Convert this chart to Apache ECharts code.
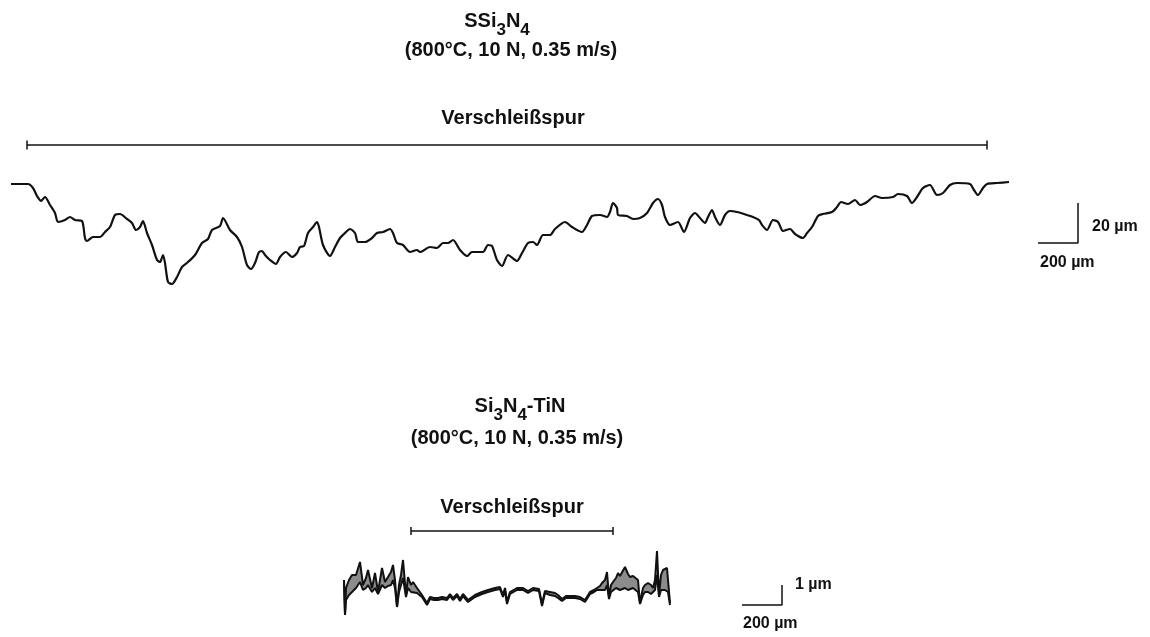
<!DOCTYPE html>
<html>
<head>
<meta charset="utf-8">
<script src="https://cdn.jsdelivr.net/npm/echarts@6/dist/echarts.min.js"></script>
<style>html,body{margin:0;padding:0;background:#fff;}#chart{width:1150px;height:637px;}</style>
</head>
<body>
<div id="chart"></div>
<script>
// ---- Top profile: SSi3N4 (x in µm along track, height in µm) ----
const topX = [5,90,115,135,155,175,200,225,240,275,300,325,360,375,385,415,450,475,500,525,550,585,610,630,650,665,685,710,735,750,765,775,790,810,835,860,890,925,960,990,1010,1050,1065,1100,1135,1160,1185,1205,1225,1245,1260,1275,1300,1330,1350,1380,1410,1435,1450,1470,1490,1515,1535,1545,1565,1600,1625,1650,1675,1700,1725,1740,1775,1810,1835,1865,1900,1915,1935,1965,2000,2035,2050,2100,2135,2165,2190,2215,2250,2285,2310,2365,2390,2410,2435,2460,2490,2535,2560,2590,2615,2635,2665,2700,2725,2775,2810,2860,2885,2910,2950,2985,3000,3015,3035,3040,3085,3115,3150,3185,3215,3240,3260,3275,3300,3340,3370,3400,3425,3450,3475,3490,3510,3525,3550,3575,3600,3635,3685,3715,3745,3760,3785,3815,3840,3865,3900,3925,3965,3985,4010,4040,4065,4110,4135,4155,4190,4225,4250,4285,4325,4360,4415,4440,4485,4510,4535,4565,4600,4635,4665,4700,4735,4800,4820,4840,4865,4885,4935,4995];
const topY = [-0.5,-0.5,-2.5,-6.5,-9,-7,-11,-15,-19.5,-18.5,-17,-18.5,-19,-27.5,-29,-27,-27,-24.5,-22,-16,-15.5,-18,-20,-23.5,-22,-19,-25,-31,-38.5,-39.5,-36,-40,-49.5,-50.5,-47,-42,-39.5,-36,-30,-28,-23.5,-21.5,-17.5,-23.5,-27,-32,-41,-43,-40,-34.5,-34,-36,-38.5,-40.5,-37,-34.5,-37,-35,-32,-31.5,-25,-22,-19.5,-22,-31,-36.5,-32,-27.5,-25,-23,-25,-29.5,-29.5,-27.5,-25,-24.5,-23,-25,-30,-31,-34.5,-33.5,-34.5,-32,-32.5,-30,-30,-28.5,-33.5,-36.5,-34.5,-34.5,-31,-31.5,-38.5,-41.5,-36,-39,-35,-30,-29.5,-31,-26,-26,-23,-19.5,-22,-24.5,-21,-16.5,-16,-17,-14.5,-10,-12.5,-16,-16.5,-18,-17.5,-15,-10,-8,-11,-17,-21,-19.5,-24.5,-17.5,-15,-17.5,-20,-17,-13.5,-17,-21,-16,-14,-14.5,-16,-17,-18.5,-21,-23.5,-18.5,-19.5,-24,-23,-25.5,-27.5,-25,-22,-16.5,-15.5,-14.5,-12,-9.5,-10.5,-8.5,-11,-9.5,-6.5,-7.5,-7,-5.5,-6.5,-10,-7,-2.5,-1,-6,-5,-1,0,-0.5,-3.5,-6,-2.5,-0.5,0,0.5];
const topTrack = [85, 4885];      // wear track start/end (µm)
const topTrackLevel = 19;         // height of the wear-track bar (µm)
const topScaleX = [5140, 5340];   // 200 µm horizontal scale
const topScaleY = [-30, -10];     // 20 µm vertical scale

// ---- Bottom profile: Si3N4-TiN (double trace: upper & lower envelope) ----
const botX = [20,25,30,45,60,80,100,115,130,140,160,175,190,210,225,240,255,265,275,285,295,305,315,330,340,355,365,385,410,435,450,470,490,510,535,550,565,585,600,615,640,675,710,740,775,800,815,825,835,850,860,885,915,940,965,995,1010,1025,1050,1075,1090,1110,1130,1150,1175,1200,1225,1250,1270,1285,1300,1310,1325,1335,1345,1355,1365,1380,1390,1400,1410,1425,1440,1450,1465,1475,1490,1500,1515,1525,1540,1555,1565,1575,1585,1595,1605,1615,1625,1635,1640,1650];
const botUpper = [0.5,-1.25,0.1,0.5,0.75,0.75,1.4,0.25,0.6,1.0,0.1,0.85,-0.1,1.1,0.4,0.65,0.9,1.25,0.5,-0.85,0.25,0.75,1.5,-0.25,0.65,0.25,0.4,0.1,-0.25,-0.65,-0.35,-0.4,-0.4,-0.35,-0.4,-0.2,-0.4,-0.2,-0.45,-0.2,-0.5,-0.25,-0.1,0,0.1,0.15,-0.25,0.1,-0.6,-0.1,0,0.1,0.1,-0.05,0.1,0.05,-0.7,-0.05,-0.1,-0.15,-0.25,-0.45,-0.3,-0.3,-0.3,-0.35,-0.5,-0.1,0,0.1,0.2,0.35,0.5,0.9,-0.35,0.25,0.4,0.6,0.85,0.7,0.6,1.15,0.8,0.65,0.7,0.6,0.5,-0.65,0.1,0.25,0.35,0.25,0.1,0.5,1.95,-0.25,0.75,1.0,0.9,1.1,0.5,-0.65];
const botLower = [0.4,-1.25,-0.5,-0.25,-0.1,0.1,0.4,0,0.1,0.25,-0.1,0.1,-0.2,0.25,0.1,0.2,0.25,0.5,0.1,-0.85,-0.1,0.25,0.6,-0.35,0.1,-0.1,-0.1,-0.15,-0.35,-0.75,-0.45,-0.5,-0.5,-0.45,-0.5,-0.3,-0.5,-0.3,-0.55,-0.3,-0.6,-0.35,-0.2,-0.1,0,0.05,-0.35,0,-0.7,-0.2,-0.1,0,0,-0.15,0,-0.05,-0.8,-0.15,-0.25,-0.3,-0.4,-0.55,-0.4,-0.4,-0.4,-0.45,-0.6,-0.2,-0.1,0,0,0.1,0,0.25,-0.45,-0.1,0,0.1,0.1,0,0,0.1,0,0.1,0.1,0,-0.1,-0.7,-0.25,-0.1,-0.1,-0.2,-0.25,0,0.75,-0.35,0,0.1,0,0.1,-0.1,-0.75];
const botTrack = [355, 1365];
const botTrackLevel = 2.95;
const botScaleX = [2010, 2210];   // 200 µm
const botScaleY = [-0.75, 0.25];  // 1 µm

// ---- Texts ----
const titleTop = ['SSi', '3', 'N', '4'];
const titleBot = ['Si', '3', 'N', '4', '-TiN'];
const condText = '(800°C, 10 N, 0.35 m/s)';
const trackText = 'Verschleißspur';
const scaleLabels = {topV: '20 µm', topH: '200 µm', botV: '1 µm', botH: '200 µm'};

const FONT = '"Liberation Sans", Arial, Helvetica, sans-serif';
const pairs = (xs, ys) => xs.map((x, i) => [x, ys[i]]);

function formula(parts) {
  return parts.map((p, i) => (i % 2 === 1 ? '{s|' + p + '}' : '{n|' + p + '}')).join('');
}
const richFormula = {
  n: {fontSize: 20, fontWeight: 'bold', fontFamily: FONT, lineHeight: 28, verticalAlign: 'top', fill: '#111'},
  s: {fontSize: 17, fontWeight: 'bold', fontFamily: FONT, lineHeight: 28, verticalAlign: 'bottom', fill: '#111'}
};

function textEl(text, x, y, size, align) {
  return {type: 'text', x: x, y: y, silent: true,
    style: {text: text, fontSize: size, fontWeight: 'bold', fontFamily: FONT, fill: '#111',
      align: align || 'center', verticalAlign: 'middle'}};
}

const chart = echarts.init(document.getElementById('chart'), null, {renderer: 'canvas'});
const lineBlack = (w) => ({color: '#111', width: w});

chart.setOption({
  animation: false,
  backgroundColor: '#fff',
  grid: [
    {left: 10, top: 130, width: 1140, height: 170},
    {left: 340, top: 520, width: 460, height: 110}
  ],
  xAxis: [
    {gridIndex: 0, type: 'value', min: 0, max: 5700, show: false},
    {gridIndex: 1, type: 'value', min: 0, max: 2300, show: false}
  ],
  yAxis: [
    {gridIndex: 0, type: 'value', min: -58.5, max: 26.5, show: false},
    {gridIndex: 1, type: 'value', min: -2, max: 3.5, show: false}
  ],
  graphic: [
    {type: 'text', x: 497, y: 25, silent: true,
      style: {text: formula(titleTop), rich: richFormula, align: 'center', verticalAlign: 'middle'}},
    textEl(condText, 511, 50, 20),
    textEl(trackText, 513, 118, 20),
    {type: 'text', x: 520, y: 410, silent: true,
      style: {text: formula(titleBot), rich: richFormula, align: 'center', verticalAlign: 'middle'}},
    textEl(condText, 517, 438, 20),
    textEl(trackText, 512, 507, 20),
    textEl(scaleLabels.topV, 1092, 227, 16, 'left'),
    textEl(scaleLabels.topH, 1040, 263, 16, 'left'),
    textEl(scaleLabels.botV, 795, 585, 16, 'left'),
    textEl(scaleLabels.botH, 743, 624, 16, 'left')
  ],
  series: [
    // top profile
    {type: 'line', xAxisIndex: 0, yAxisIndex: 0, data: pairs(topX, topY), showSymbol: false,
      smooth: 0.25, lineStyle: lineBlack(2.2)},
    {type: 'line', xAxisIndex: 0, yAxisIndex: 0, data: topTrack.map(x => [x, topTrackLevel]),
      symbol: 'rect', symbolSize: [1.5, 9], itemStyle: {color: '#111'}, lineStyle: lineBlack(1.5)},
    {type: 'line', xAxisIndex: 0, yAxisIndex: 0,
      data: [[topScaleX[0], topScaleY[0]], [topScaleX[1], topScaleY[0]], [topScaleX[1], topScaleY[1]]],
      showSymbol: false, lineStyle: lineBlack(1.5)},
    // bottom profile: grey band between upper and lower traces
    {type: 'line', xAxisIndex: 1, yAxisIndex: 1, data: pairs(botX, botUpper), showSymbol: false,
      lineStyle: {width: 0, opacity: 0}, areaStyle: {color: '#8c8c8c', opacity: 1, origin: 'start'}},
    {type: 'line', xAxisIndex: 1, yAxisIndex: 1, data: pairs(botX, botLower), showSymbol: false,
      lineStyle: {width: 0, opacity: 0}, areaStyle: {color: '#ffffff', opacity: 1, origin: 'start'}},
    {type: 'line', xAxisIndex: 1, yAxisIndex: 1, data: pairs(botX, botUpper), showSymbol: false,
      lineStyle: lineBlack(2)},
    {type: 'line', xAxisIndex: 1, yAxisIndex: 1, data: pairs(botX, botLower), showSymbol: false,
      lineStyle: lineBlack(2)},
    {type: 'line', xAxisIndex: 1, yAxisIndex: 1, data: botTrack.map(x => [x, botTrackLevel]),
      symbol: 'rect', symbolSize: [1.5, 8], itemStyle: {color: '#111'}, lineStyle: lineBlack(1.5)},
    {type: 'line', xAxisIndex: 1, yAxisIndex: 1,
      data: [[botScaleX[0], botScaleY[0]], [botScaleX[1], botScaleY[0]], [botScaleX[1], botScaleY[1]]],
      showSymbol: false, lineStyle: lineBlack(1.5)}
  ]
});
</script>
</body>
</html>
